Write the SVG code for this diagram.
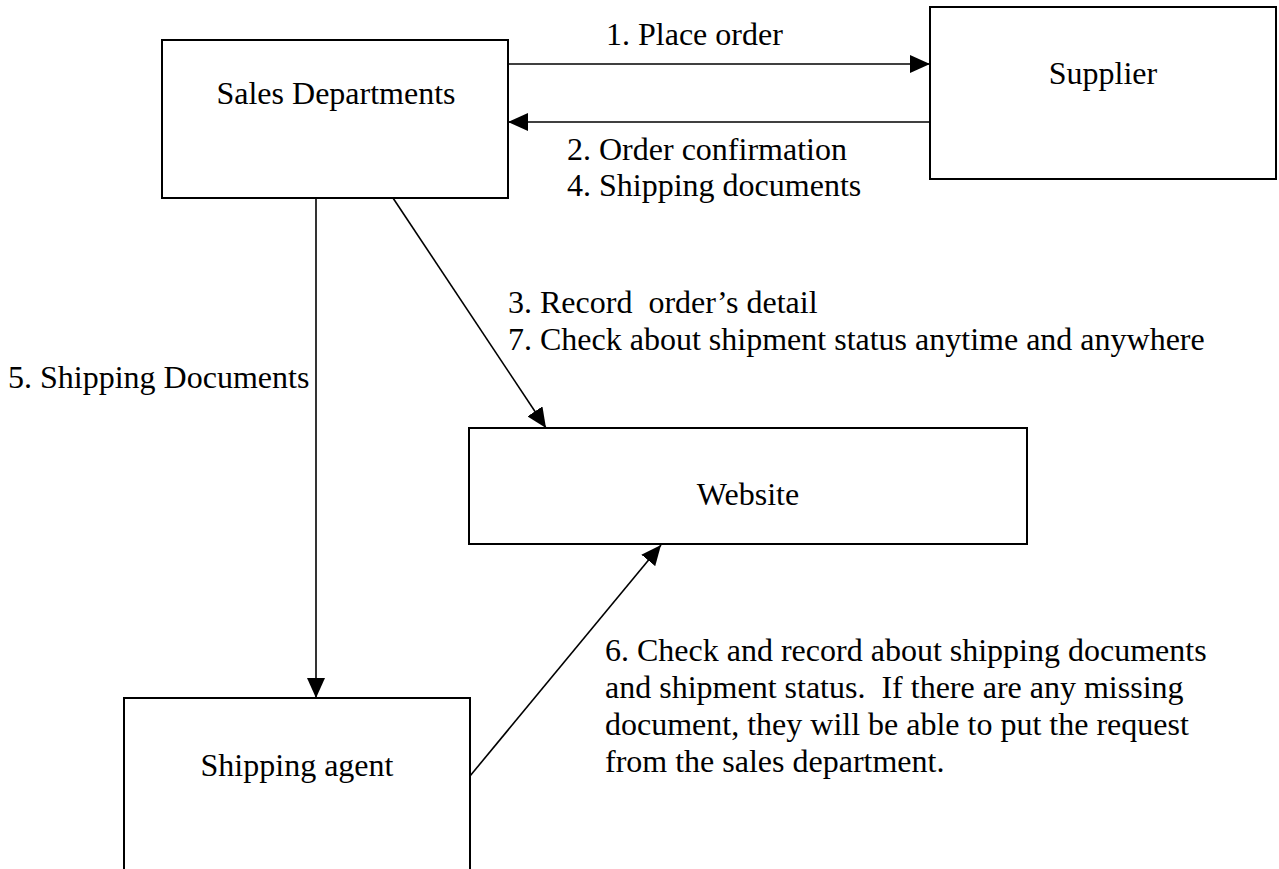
<svg xmlns="http://www.w3.org/2000/svg" width="1279" height="869" viewBox="0 0 1279 869">
  <style>
    .box { fill: #ffffff; stroke: #000000; stroke-width: 2; }
    .t { font-family: "Liberation Serif", "Times New Roman", serif; font-size: 32px; fill: #000000; white-space: pre; }
    .c { text-anchor: middle; }
    .edge { stroke: #000000; stroke-width: 1.6; fill: none; marker-end: url(#arrow); }
  </style>
  <defs>
    <marker id="arrow" markerUnits="userSpaceOnUse" markerWidth="20" markerHeight="18" viewBox="0 0 20 18" refX="20" refY="9" orient="auto">
      <path d="M0,0 L20,9 L0,18 Z" fill="#000000"/>
    </marker>
  </defs>
  <rect width="1279" height="869" fill="#ffffff"/>

  <g id="sales">
    <rect class="box" x="162" y="40" width="346" height="158"/>
    <text class="t c" x="336" y="104">Sales Departments</text>
  </g>
  <g id="supplier">
    <rect class="box" x="930" y="7" width="346" height="172"/>
    <text class="t c" x="1103" y="84">Supplier</text>
  </g>
  <g id="website">
    <rect class="box" x="469" y="428" width="558" height="116"/>
    <text class="t c" x="748" y="505">Website</text>
  </g>
  <g id="shipping-agent">
    <rect class="box" x="124" y="698" width="346" height="200"/>
    <text class="t c" x="297" y="776">Shipping agent</text>
  </g>

  <g id="connectors">
    <line class="edge" x1="508" y1="64" x2="930" y2="64"/>
    <line class="edge" x1="930" y1="122" x2="508" y2="122"/>
    <line class="edge" x1="316" y1="198" x2="316" y2="698"/>
    <line class="edge" x1="393" y1="198" x2="546" y2="428"/>
    <line class="edge" x1="470" y1="776" x2="661" y2="545"/>
  </g>

  <g id="labels">
    <text class="t" x="606" y="45">1. Place order</text>
    <text class="t" x="567" y="160">2. Order confirmation</text>
    <text class="t" x="567" y="196">4. Shipping documents</text>
    <text class="t" x="508" y="313">3. Record  order’s detail</text>
    <text class="t" x="508" y="350">7. Check about shipment status anytime and anywhere</text>
    <text class="t" x="8" y="388">5. Shipping Documents</text>
    <text class="t" x="605" y="661">6. Check and record about shipping documents</text>
    <text class="t" x="605" y="698">and shipment status.  If there are any missing</text>
    <text class="t" x="605" y="735">document, they will be able to put the request</text>
    <text class="t" x="605" y="772">from the sales department.</text>
  </g>
</svg>
